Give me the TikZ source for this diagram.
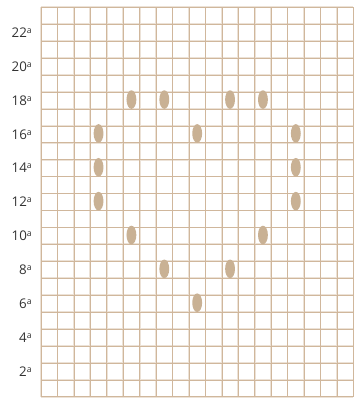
\documentclass[tikz,border=0pt]{standalone}
\usepackage{fontspec}
\setmainfont{Open Sans}
\usepackage{xcolor}
\definecolor{gridlight}{HTML}{ECE2D7}
\definecolor{griddark}{HTML}{D0B79C}
\definecolor{bead}{HTML}{C9B194}
\definecolor{labeltext}{HTML}{333333}
\tikzset{
  gridhalo/.style={draw=gridlight, line width=1.3pt},
  gridline/.style={draw=griddark, line width=0.4pt},
  beadmark/.style={fill=bead},
  rowlabel/.style={anchor=east, inner sep=0pt, text=labeltext, font=\fontsize{10}{11}\selectfont}
}
\newcommand{\ordsup}[1]{#1\raisebox{0.3em}{\fontsize{6.5}{6.5}\selectfont a}}

\begin{document}
\begin{tikzpicture}[x=0.75pt,y=0.75pt]
    \useasboundingbox (0,0) rectangle (363,399);
    \fill[white] (0,0) rectangle (363,399);

    \begin{scope}[shift={(41,2.3)}, xscale=16.44, yscale=16.93]
        % Grid, 19 columns by 23 rows
        \foreach \i in {0,...,19} \draw[gridhalo] (\i,0) -- (\i,23);
        \foreach \j in {0,...,23} \draw[gridhalo] (0,\j) -- (19,\j);
        \foreach \i in {0,...,19} \draw[gridline] (\i,0) -- (\i,23);
        \foreach \j in {0,...,23} \draw[gridline] (0,\j) -- (19,\j);

        % Row labels
        \foreach \r in {2,4,...,22}
            \node[rowlabel] (lbl\r) at (-0.55,\r-0.5) {\ordsup{\r}};

        % Beads (column/row)
        \foreach \c/\r in {5/18, 7/18, 11/18, 13/18,
                           3/16, 9/16, 15/16,
                           3/14, 15/14,
                           3/12, 15/12,
                           5/10, 13/10,
                           7/8, 11/8,
                           9/6}
            \fill[beadmark] (\c+0.5,\r-0.45) ellipse [x radius=0.3, y radius=0.55];
    \end{scope}
\end{tikzpicture}
\end{document}
